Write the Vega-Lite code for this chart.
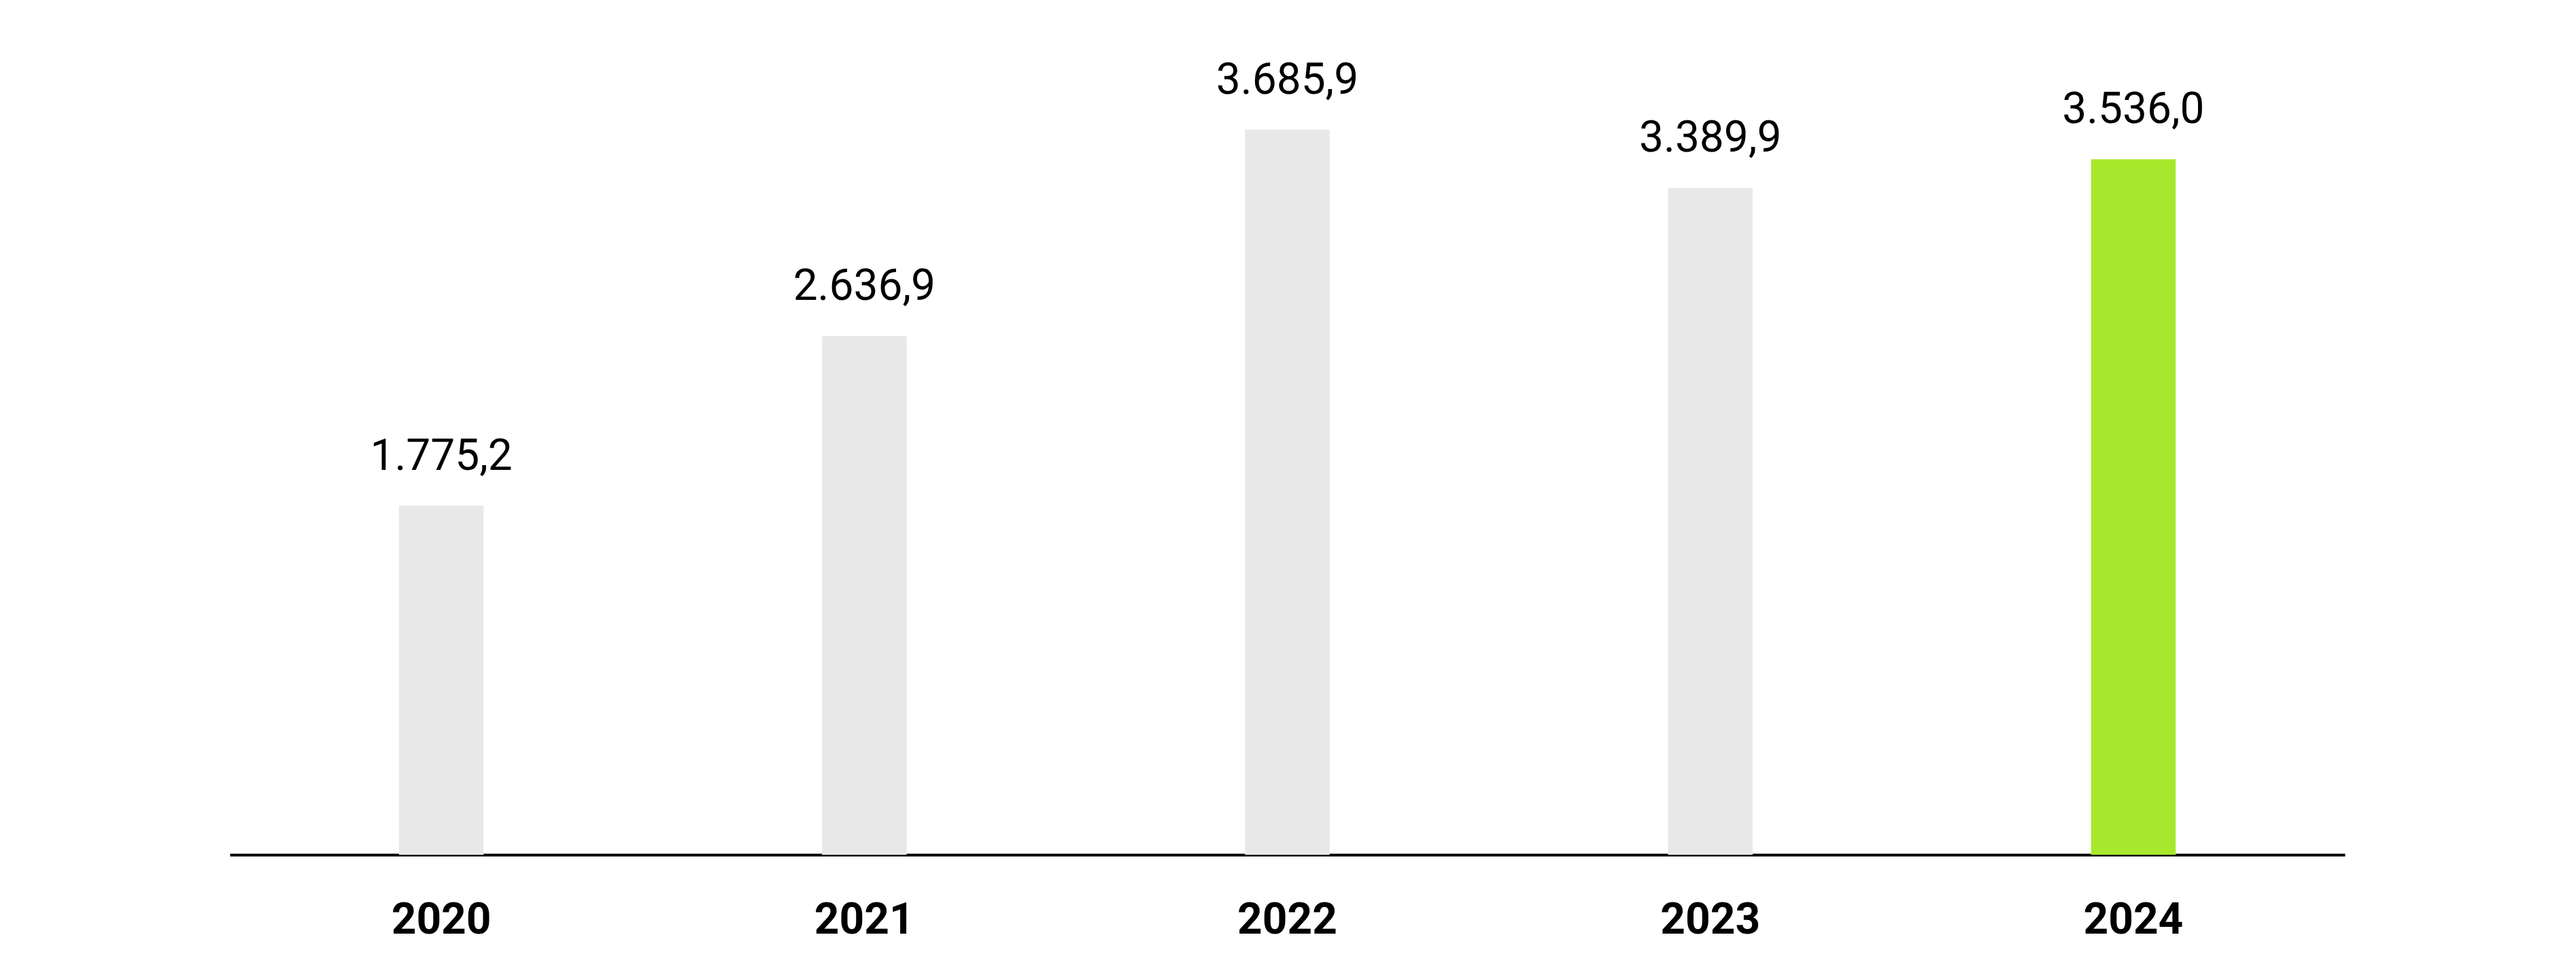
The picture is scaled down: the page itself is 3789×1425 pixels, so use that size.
{
  "$schema": "https://vega.github.io/schema/vega-lite/v6.json",
  "autosize": "none",
  "width": 3111,
  "height": 1157,
  "padding": {"left": 338, "top": 100, "right": 340, "bottom": 168},
  "data": {
    "values": [
      {"year": "2020", "value": 1775.2, "current": "no"},
      {"year": "2021", "value": 2636.9, "current": "no"},
      {"year": "2022", "value": 3685.9, "current": "no"},
      {"year": "2023", "value": 3389.9, "current": "no"},
      {"year": "2024", "value": 3536.0, "current": "yes"}
    ]
  },
  "encoding": {
    "x": {
      "field": "year",
      "type": "nominal",
      "title": null,
      "scale": {"paddingInner": 0.8, "paddingOuter": 0.4},
      "axis": {
        "labelAngle": 0,
        "labelFont": "Roboto",
        "labelFontWeight": "bold",
        "labelFontSize": 64,
        "labelColor": "#000000",
        "labelPadding": 64,
        "ticks": false,
        "domainColor": "#000000",
        "domainWidth": 4
      }
    },
    "y": {
      "field": "value",
      "type": "quantitative",
      "scale": {"domain": [0, 4000]},
      "axis": null
    }
  },
  "layer": [
    {
      "mark": {"type": "bar"},
      "encoding": {
        "color": {
          "field": "current",
          "type": "nominal",
          "scale": {"domain": ["no", "yes"], "range": ["#e8e8e8", "#a7e82c"]},
          "legend": null
        }
      }
    },
    {
      "mark": {
        "type": "text",
        "baseline": "alphabetic",
        "dy": -53,
        "font": "Roboto",
        "fontSize": 64,
        "color": "#000000"
      },
      "encoding": {
        "text": {"field": "value", "type": "quantitative", "format": ",.1f"}
      }
    }
  ],
  "config": {
    "view": {"stroke": null},
    "locale": {
      "number": {
        "decimal": ",",
        "thousands": ".",
        "grouping": [3],
        "currency": ["", " €"]
      }
    }
  }
}
